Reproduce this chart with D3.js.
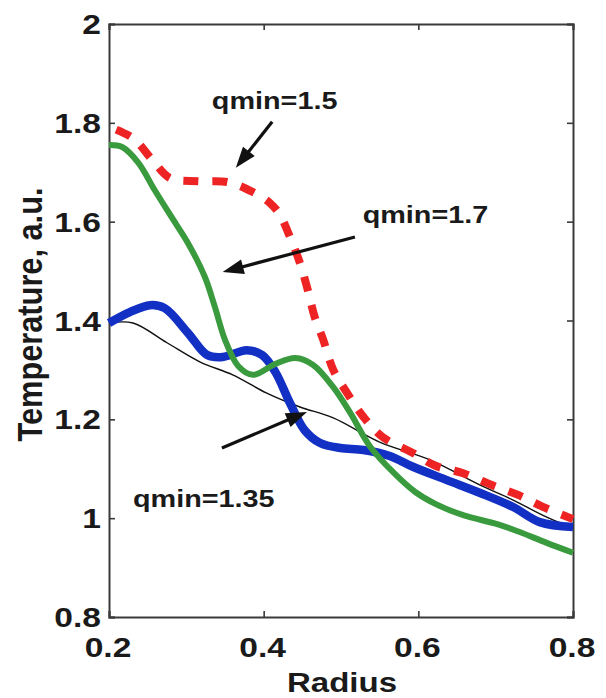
<!DOCTYPE html>
<html>
<head>
<meta charset="utf-8">
<script src="https://cdn.jsdelivr.net/npm/d3@7/dist/d3.min.js"></script>
<style>
  html, body { margin: 0; padding: 0; background: #fff; }
  svg { display: block; }
  text { font-family: "Liberation Sans", Arial, Helvetica, sans-serif; font-weight: bold; fill: #1a1a1a; }
</style>
</head>
<body>
<svg id="chart" width="606" height="698"></svg>
<script>
// Radius samples and temperature profiles for each q_min case
const baseR = [0.200, 0.231, 0.275, 0.318, 0.360, 0.404, 0.447, 0.490, 0.550, 0.615, 0.680, 0.722, 0.766, 0.800];
const baseT = [1.395, 1.395, 1.355, 1.316, 1.290, 1.253, 1.225, 1.203, 1.154, 1.118, 1.067, 1.037, 1.002, 0.980];

const q135R = [0.200, 0.227, 0.253, 0.272, 0.302, 0.327, 0.347, 0.378, 0.398, 0.415, 0.434, 0.453, 0.473, 0.499, 0.529, 0.563, 0.593, 0.637, 0.680, 0.722, 0.757, 0.800];
const q135T = [1.395, 1.417, 1.431, 1.425, 1.375, 1.330, 1.326, 1.340, 1.330, 1.296, 1.233, 1.178, 1.152, 1.142, 1.138, 1.126, 1.104, 1.077, 1.051, 1.023, 0.992, 0.982];

const q17R = [0.200, 0.217, 0.238, 0.259, 0.281, 0.302, 0.324, 0.337, 0.350, 0.367, 0.386, 0.415, 0.441, 0.464, 0.490, 0.512, 0.538, 0.570, 0.596, 0.622, 0.658, 0.702, 0.731, 0.766, 0.800];
const q17T = [1.755, 1.751, 1.719, 1.664, 1.609, 1.557, 1.488, 1.427, 1.361, 1.308, 1.290, 1.312, 1.324, 1.310, 1.265, 1.213, 1.144, 1.089, 1.053, 1.029, 1.006, 0.988, 0.972, 0.950, 0.930];

const q15R = [0.200, 0.231, 0.256, 0.279, 0.315, 0.354, 0.386, 0.408, 0.421, 0.434, 0.447, 0.457, 0.466, 0.477, 0.490, 0.508, 0.529, 0.554, 0.593, 0.622, 0.658, 0.695, 0.729, 0.761, 0.800];
const q15T = [1.792, 1.769, 1.725, 1.688, 1.682, 1.680, 1.660, 1.638, 1.614, 1.569, 1.516, 1.462, 1.407, 1.361, 1.300, 1.253, 1.205, 1.164, 1.132, 1.106, 1.091, 1.067, 1.047, 1.023, 0.998];

const xTicks = [0.2, 0.4, 0.6, 0.8];
const xTickLabels = ["0.2", "0.4", "0.6", "0.8"];
const yTicks = [0.8, 1.0, 1.2, 1.4, 1.6, 1.8, 2.0];
const yTickLabels = ["0.8", "1", "1.2", "1.4", "1.6", "1.8", "2"];

// Annotation labels with arrow tail/head in data units
const noteLabels = ["qmin=1.5", "qmin=1.7", "qmin=1.35"];
const noteTextPos = [[0.333, 1.827], [0.528, 1.598], [0.231, 1.023]];
const noteArrowFrom = [[0.411, 1.802], [0.518, 1.569], [0.346, 1.142]];
const noteArrowTo = [[0.364, 1.709], [0.347, 1.498], [0.456, 1.215]];

const svg = d3.select("#chart");
const margin = { left: 109, right: 33, top: 24, bottom: 81 };
const W = 606, H = 698;

const x = d3.scaleLinear().domain([0.2, 0.8]).range([margin.left, W - margin.right]);
const y = d3.scaleLinear().domain([0.8, 2.0]).range([H - margin.bottom, margin.top]);

const SX = 1.2; // wide letterforms

// Frame with inward ticks on all four sides
const frameColor = "#3a3a3a";
const axB = svg.append("g").attr("transform", `translate(0,${y(0.8)})`)
  .call(d3.axisBottom(x).tickValues(xTicks).tickSize(-6).tickFormat(""));
const axT = svg.append("g").attr("transform", `translate(0,${y(2.0)})`)
  .call(d3.axisTop(x).tickValues(xTicks).tickSize(-6).tickFormat(""));
const axL = svg.append("g").attr("transform", `translate(${x(0.2)},0)`)
  .call(d3.axisLeft(y).tickValues(yTicks).tickSize(-6).tickFormat(""));
const axR = svg.append("g").attr("transform", `translate(${x(0.8)},0)`)
  .call(d3.axisRight(y).tickValues(yTicks).tickSize(-6).tickFormat(""));
[axB, axT, axL, axR].forEach(g => {
  g.select(".domain").attr("stroke", frameColor).attr("stroke-width", 2);
  g.selectAll(".tick line").attr("stroke", frameColor).attr("stroke-width", 1.6);
});

// Tick labels
svg.append("g").selectAll("text").data(yTicks).join("text")
  .attr("text-anchor", "end")
  .attr("font-size", 28)
  .attr("transform", d => `translate(${x(0.2) - 8},${y(d) + 10}) scale(${SX},1)`)
  .text((d, i) => yTickLabels[i]);

svg.append("g").selectAll("text").data(xTicks).join("text")
  .attr("text-anchor", "middle")
  .attr("font-size", 28)
  .attr("transform", d => `translate(${x(d) - 1},657) scale(${SX},1)`)
  .text((d, i) => xTickLabels[i]);

// Axis titles
svg.append("text")
  .attr("text-anchor", "middle")
  .attr("font-size", 28)
  .attr("transform", `translate(${(x(0.2) + x(0.8)) / 2 + 1},692) scale(1.18,1)`)
  .text("Radius");

svg.append("text")
  .attr("text-anchor", "middle")
  .attr("font-size", 29)
  .attr("transform", `translate(42,${(y(0.8) + y(2.0)) / 2 - 6}) rotate(-90) scale(1.06,1.2)`)
  .text("Temperature, a.u.");

// Profiles
const plot = svg.append("g");
const line = d3.line().x(d => x(d[0])).y(d => y(d[1])).curve(d3.curveCatmullRom.alpha(0.5));
const zip = (a, b) => a.map((v, i) => [v, b[i]]);

plot.append("path").datum(zip(baseR, baseT))
  .attr("d", line).attr("fill", "none").attr("stroke", "#111").attr("stroke-width", 1.4);
plot.append("path").datum(zip(q135R, q135T))
  .attr("d", line).attr("fill", "none").attr("stroke", "#1230c4").attr("stroke-width", 8.5)
  .attr("stroke-linejoin", "round").attr("stroke-linecap", "butt");
plot.append("path").datum(zip(q17R, q17T))
  .attr("d", line).attr("fill", "none").attr("stroke", "#3a9a3e").attr("stroke-width", 6)
  .attr("stroke-linejoin", "round").attr("stroke-linecap", "butt");
plot.append("path").datum(zip(q15R, q15T))
  .attr("d", line).attr("fill", "none").attr("stroke", "#ee2424").attr("stroke-width", 8)
  .attr("stroke-dasharray", "15,14").attr("stroke-dashoffset", -8)
  .attr("stroke-linecap", "butt");

// Annotations
const ann = svg.append("g");
noteLabels.forEach((lab, i) => {
  ann.append("text")
    .attr("font-size", 24)
    .attr("transform", `translate(${x(noteTextPos[i][0])},${y(noteTextPos[i][1])}) scale(${SX},1)`)
    .text(lab);
  const [x0, y0] = [x(noteArrowFrom[i][0]), y(noteArrowFrom[i][1])];
  const [x1, y1] = [x(noteArrowTo[i][0]), y(noteArrowTo[i][1])];
  const ang = Math.atan2(y1 - y0, x1 - x0);
  const headLen = 21, headHalf = 7.5;
  const bx = x1 - headLen * Math.cos(ang), by = y1 - headLen * Math.sin(ang);
  ann.append("line")
    .attr("x1", x0).attr("y1", y0).attr("x2", bx + 2 * Math.cos(ang)).attr("y2", by + 2 * Math.sin(ang))
    .attr("stroke", "#111").attr("stroke-width", 3.2);
  const px = -Math.sin(ang), py = Math.cos(ang);
  ann.append("path")
    .attr("d", `M${x1},${y1} L${bx + headHalf * px},${by + headHalf * py} L${bx - headHalf * px},${by - headHalf * py} Z`)
    .attr("fill", "#111");
});
</script>
</body>
</html>
